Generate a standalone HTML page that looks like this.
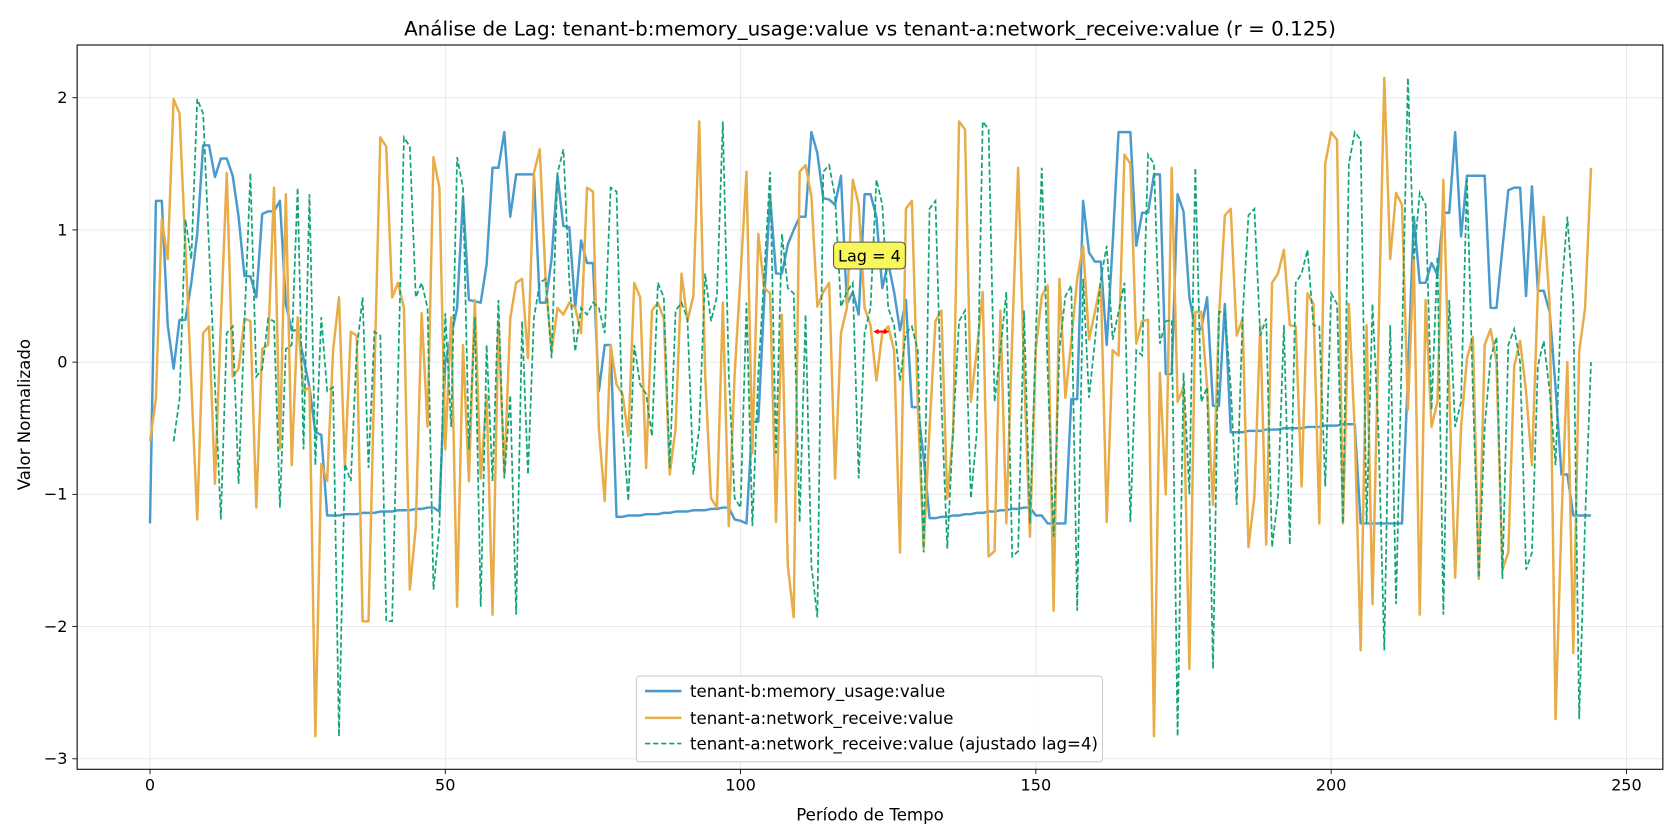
<!DOCTYPE html>
<html><head><meta charset="utf-8"><style>
html,body{margin:0;padding:0;background:#fff}
svg{display:block;font-family:"DejaVu Sans","Liberation Sans",sans-serif}
</style></head><body>
<svg id="chart" width="1680" height="840" viewBox="0 0 1568 784" xmlns="http://www.w3.org/2000/svg">
<rect width="1568" height="784" fill="#fff"/>
<text x="812" y="33" font-size="18.6" text-anchor="middle" fill="#000">Análise de Lag: tenant-b:memory_usage:value vs tenant-a:network_receive:value (r = 0.125)</text>
<g id="grid"></g>
<g id="series"></g>
<rect x="72" y="42" width="1480" height="676" fill="none" stroke="#000" stroke-width="1"/>
<g id="axes"></g>
<text x="812" y="766" font-size="15.5" text-anchor="middle">Período de Tempo</text>
<text transform="translate(28,387) rotate(-90)" font-size="15.5" text-anchor="middle">Valor Normalizado</text>
<g>
<rect x="778" y="226" width="67" height="25" rx="4" fill="#f7f75a" stroke="#555" stroke-width="1"/>
<text x="811.5" y="244" font-size="15" text-anchor="middle">Lag = 4</text>
<path d="M815 309.5 L820 307 L820 312 Z M830 309.5 L825 307 L825 312 Z" fill="#f00"/>
<line x1="818" y1="309.5" x2="827" y2="309.5" stroke="#f00" stroke-width="2"/>
</g>
<g>
<rect x="594" y="631" width="435" height="80" rx="3" fill="#fff" fill-opacity="0.85" stroke="#ccc"/>
<line x1="602" y1="645" x2="636" y2="645" stroke="#4a9bcd" stroke-width="2.4"/>
<text x="644" y="650.5" font-size="15.5">tenant-b:memory_usage:value</text>
<line x1="602" y1="670" x2="636" y2="670" stroke="#e8ac48" stroke-width="2.4"/>
<text x="644" y="675.5" font-size="15.5">tenant-a:network_receive:value</text>
<line x1="602" y1="694" x2="636" y2="694" stroke="#12a477" stroke-width="1.6" stroke-dasharray="5,2.5"/>
<text x="644" y="699.5" font-size="15.5">tenant-a:network_receive:value (ajustado lag=4)</text>
</g>
</svg>
<script>
const xTicks = [0, 50, 100, 150, 200, 250];
const yTicks = [-3, -2, -1, 0, 1, 2];
const lag = 4;
const memoryUsage = [-1.22,1.22,1.22,0.28,-0.05,0.32,0.32,0.6,0.97,1.64,1.64,1.4,1.54,1.54,1.41,1.1,0.65,0.65,0.49,1.12,1.14,1.14,1.22,0.44,0.24,0.24,0.03,-0.19,-0.53,-0.55,-1.16,
-1.16,-1.16,-1.15,-1.15,-1.15,-1.14,-1.14,-1.14,-1.13,-1.13,-1.13,-1.12,-1.12,-1.12,-1.11,-1.11,-1.1,-1.1,-1.13,0.0,0.2,0.41,1.25,0.47,0.46,0.45,0.74,1.47,1.47,1.74,1.1,1.42,1.42,1.42,1.42,0.45,0.45,0.78,1.41,1.03,1.02,0.41,0.92,0.75,0.75,-0.22,0.13,0.13,
-1.17,-1.17,-1.16,-1.16,-1.16,-1.15,-1.15,-1.15,-1.14,-1.14,-1.13,-1.13,-1.13,-1.12,-1.12,-1.12,-1.11,-1.11,-1.1,-1.1,-1.19,-1.2,-1.22,-0.45,-0.45,0.47,1.25,0.67,0.67,0.89,1.0,1.1,1.1,1.74,1.58,1.24,1.23,1.19,1.41,0.44,0.53,0.36,1.27,1.27,1.1,0.56,0.75,0.53,0.24,0.47,-0.34,-0.34,-0.72,-1.18,
-1.18,-1.17,-1.17,-1.16,-1.16,-1.15,-1.15,-1.14,-1.14,-1.13,-1.13,-1.12,-1.12,-1.11,-1.11,-1.1,-1.1,-1.16,-1.16,-1.22,-1.22,-1.22,-1.22,-0.28,-0.28,1.22,0.83,0.76,0.76,0.13,0.89,1.74,1.74,1.74,0.88,1.13,1.13,1.42,1.42,-0.09,-0.09,1.27,1.14,0.49,0.25,0.25,0.49,-0.33,-0.33,0.44,-0.53,
-0.53,-0.53,-0.52,-0.52,-0.52,-0.51,-0.51,-0.51,-0.5,-0.5,-0.5,-0.5,-0.49,-0.49,-0.49,-0.48,-0.48,-0.48,-0.47,-0.47,-0.47,-1.22,-1.22,-1.22,-1.22,-1.22,-1.22,-1.22,-1.22,-0.1,1.1,0.6,0.6,0.75,0.66,1.13,1.13,1.74,0.95,1.41,1.41,1.41,1.41,0.41,0.41,0.86,1.3,1.32,1.32,0.5,1.33,0.54,0.54,0.38,-0.19,-0.85,-0.85,-1.16,-1.16,-1.16,-1.16];
const networkReceive = [-0.6,-0.28,1.08,0.78,1.99,1.88,0.86,-0.17,-1.19,0.22,0.27,-0.92,0.3,1.43,-0.11,-0.05,0.33,0.31,-1.1,0.1,0.13,1.32,-0.66,1.27,-0.78,0.34,-0.22,-0.19,-2.83,-0.77,-0.9,0.09,0.49,-0.8,0.23,0.2,-1.96,-1.96,
-0.1,1.7,1.63,0.49,0.6,0.41,-1.72,-1.25,0.37,-0.49,1.55,1.32,-0.66,0.34,-1.85,0.13,-0.9,0.47,-0.88,-0.25,-1.91,0.31,-0.85,0.33,0.6,0.63,0.03,1.43,1.61,0.61,0.08,0.41,0.36,0.45,0.41,0.22,1.32,1.29,-0.5,-1.05,0.13,-0.17,-0.24,-0.56,0.6,0.49,-0.8,0.39,0.45,0.33,-0.85,-0.5,0.67,0.31,0.5,1.82,-0.09,-1.03,-1.1,0.45,-1.24,-0.09,
0.66,1.44,-0.69,0.97,0.56,0.52,-1.21,0.36,-1.54,-1.93,1.44,1.49,1.25,0.42,0.53,0.6,-0.88,0.22,0.41,1.38,1.19,0.41,0.28,-0.14,0.22,0.27,0.09,-1.44,1.16,1.22,-0.3,-1.41,-0.5,0.31,0.39,-1.03,-0.53,1.82,1.76,-0.3,0.09,0.53,-1.47,-1.43,0.39,-1.22,0.2,1.47,-0.06,-1.32,
0.1,0.5,0.58,-1.88,0.63,-0.27,0.16,0.63,0.88,0.17,0.38,0.6,-1.21,0.09,0.05,1.57,1.5,0.14,0.31,0.32,-2.83,-0.08,-1.0,1.47,-0.3,-0.19,-2.32,0.38,0.38,-0.19,-1.08,0.34,1.11,1.16,0.2,0.33,-1.4,-1.02,0.28,-1.38,0.6,0.67,0.85,0.28,0.27,-0.94,0.52,0.44,-1.22,1.5,
1.74,1.68,-1.22,0.44,-0.52,-2.18,0.28,-1.83,0.16,2.15,0.78,1.28,1.19,-0.36,0.8,-1.91,0.47,-0.49,-0.3,1.38,-0.22,-1.63,-0.49,0.03,0.19,-1.64,0.13,0.25,0.0,-1.57,-1.44,-0.03,0.16,-0.22,-0.78,0.53,1.1,0.44,-2.7,-1.2,0.0,-2.2,0.08,0.41,1.47];

const NS = 'http://www.w3.org/2000/svg';
function xs(v){ return 140 + v * 5.512; }
function ys(v){ return 338 - v * 123.4; }
function mk(tag, attrs, parent){ const e = document.createElementNS(NS, tag); for (const k in attrs) e.setAttribute(k, attrs[k]); parent.appendChild(e); return e; }

const grid = document.getElementById('grid');
const axes = document.getElementById('axes');
xTicks.forEach(t => {
  const g = mk('line', {x1: xs(t), x2: xs(t), y1: 42, y2: 718, stroke: '#b0b0b0', 'stroke-opacity': 0.3, 'stroke-width': 0.8}, grid);
  
  
  mk('line', {x1: xs(t), x2: xs(t), y1: 718, y2: 722.5, stroke: '#000', 'stroke-width': 0.8}, axes);
  const l = mk('text', {x: xs(t), y: 738, 'font-size': 15, 'text-anchor': 'middle'}, axes);
  l.textContent = String(t);
  
  
});
yTicks.forEach(t => {
  const g = mk('line', {x1: 72, x2: 1552, y1: ys(t), y2: ys(t), stroke: '#b0b0b0', 'stroke-opacity': 0.3, 'stroke-width': 0.8}, grid);
  
  
  mk('line', {x1: 67.5, x2: 72, y1: ys(t), y2: ys(t), stroke: '#000', 'stroke-width': 0.8}, axes);
  const l = mk('text', {x: 63, y: ys(t) + 5, 'font-size': 15, 'text-anchor': 'end'}, axes);
  l.textContent = (t < 0 ? '\u2212' + (-t) : String(t));
  
  
});

const series = document.getElementById('series');
function pathFor(vals, offset){ return vals.map((v, i) => (i ? 'L' : 'M') + xs(i + offset).toFixed(2) + ' ' + ys(v).toFixed(2)).join(' '); }
const pMem = mk('path', {d: pathFor(memoryUsage, 0), fill: 'none', stroke: '#4a9bcd', 'stroke-width': 2.3, 'stroke-linejoin': 'round'}, series);


const pNet = mk('path', {d: pathFor(networkReceive, 0), fill: 'none', stroke: '#e8ac48', 'stroke-width': 2.3, 'stroke-linejoin': 'round'}, series);


const lagged = networkReceive.slice(0, networkReceive.length - lag);
const pLag = mk('path', {d: pathFor(lagged, lag), fill: 'none', stroke: '#12a477', 'stroke-width': 1.6, 'stroke-dasharray': '5,2.5'}, series);


</script>
</body></html>
